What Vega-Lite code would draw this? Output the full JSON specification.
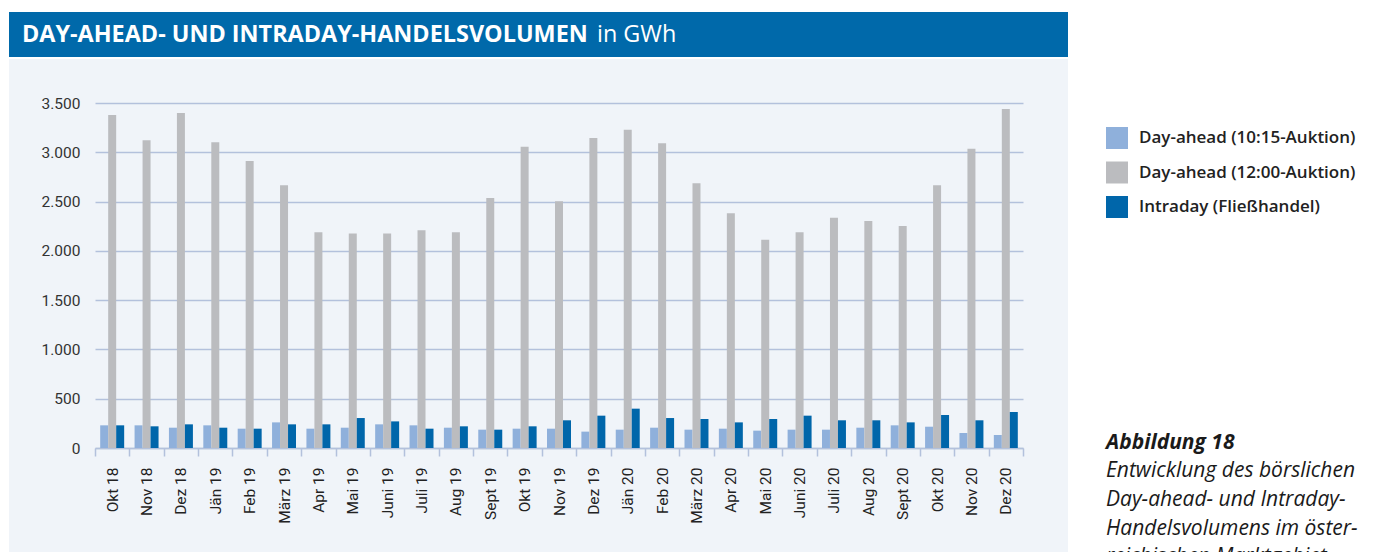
{
  "$schema": "https://vega.github.io/schema/vega-lite/v6.json",
  "background": "white",
  "padding": {"left": 2, "top": 12, "right": 0, "bottom": 0},
  "config": {
    "font": "Roboto",
    "locale": {"number": {"decimal": ",", "thousands": ".", "grouping": [3], "currency": ["", " €"]}},
    "view": {"stroke": null}
  },
  "spacing": 38,
  "hconcat": [
    {
      "spacing": 2,
      "vconcat": [
        {
          "width": 1059,
          "height": 45,
          "view": {"fill": "#0069AA", "stroke": null},
          "layer": [
            {
              "data": {"values": [{"Teil": "DAY-AHEAD- UND INTRADAY-HANDELSVOLUMEN"}]},
              "mark": {"type": "text", "align": "left", "baseline": "middle", "font": "Open Sans", "fontSize": 23.4, "fontWeight": "bold", "color": "white"},
              "encoding": {
                "x": {"field": "Teil", "type": "nominal", "scale": {"type": "point", "padding": 0, "domain": ["DAY-AHEAD- UND INTRADAY-HANDELSVOLUMEN", "in GWh"], "range": [13, 588]}, "axis": null},
                "text": {"field": "Teil"}
              }
            },
            {
              "data": {"values": [{"Teil": "in GWh"}]},
              "mark": {"type": "text", "align": "left", "baseline": "middle", "font": "Open Sans", "fontSize": 23.4, "fontWeight": "normal", "color": "white"},
              "encoding": {
                "x": {"field": "Teil", "type": "nominal", "axis": null},
                "text": {"field": "Teil"}
              }
            }
          ]
        },
        {
          "width": 1059,
          "height": 493,
          "view": {"fill": "#F0F4F9", "stroke": null},
          "data": {"values": [
            {"Monat": "Okt 18", "Reihe": "Day-ahead (10:15-Auktion)", "GWh": 230},
            {"Monat": "Okt 18", "Reihe": "Day-ahead (12:00-Auktion)", "GWh": 3378},
            {"Monat": "Okt 18", "Reihe": "Intraday (Fließhandel)", "GWh": 230},
            {"Monat": "Nov 18", "Reihe": "Day-ahead (10:15-Auktion)", "GWh": 230},
            {"Monat": "Nov 18", "Reihe": "Day-ahead (12:00-Auktion)", "GWh": 3121},
            {"Monat": "Nov 18", "Reihe": "Intraday (Fließhandel)", "GWh": 220},
            {"Monat": "Dez 18", "Reihe": "Day-ahead (10:15-Auktion)", "GWh": 206},
            {"Monat": "Dez 18", "Reihe": "Day-ahead (12:00-Auktion)", "GWh": 3398},
            {"Monat": "Dez 18", "Reihe": "Intraday (Fließhandel)", "GWh": 240},
            {"Monat": "Jän 19", "Reihe": "Day-ahead (10:15-Auktion)", "GWh": 230},
            {"Monat": "Jän 19", "Reihe": "Day-ahead (12:00-Auktion)", "GWh": 3101},
            {"Monat": "Jän 19", "Reihe": "Intraday (Fließhandel)", "GWh": 206},
            {"Monat": "Feb 19", "Reihe": "Day-ahead (10:15-Auktion)", "GWh": 196},
            {"Monat": "Feb 19", "Reihe": "Day-ahead (12:00-Auktion)", "GWh": 2911},
            {"Monat": "Feb 19", "Reihe": "Intraday (Fließhandel)", "GWh": 196},
            {"Monat": "März 19", "Reihe": "Day-ahead (10:15-Auktion)", "GWh": 260},
            {"Monat": "März 19", "Reihe": "Day-ahead (12:00-Auktion)", "GWh": 2665},
            {"Monat": "März 19", "Reihe": "Intraday (Fließhandel)", "GWh": 240},
            {"Monat": "Apr 19", "Reihe": "Day-ahead (10:15-Auktion)", "GWh": 196},
            {"Monat": "Apr 19", "Reihe": "Day-ahead (12:00-Auktion)", "GWh": 2188},
            {"Monat": "Apr 19", "Reihe": "Intraday (Fließhandel)", "GWh": 240},
            {"Monat": "Mai 19", "Reihe": "Day-ahead (10:15-Auktion)", "GWh": 206},
            {"Monat": "Mai 19", "Reihe": "Day-ahead (12:00-Auktion)", "GWh": 2176},
            {"Monat": "Mai 19", "Reihe": "Intraday (Fließhandel)", "GWh": 304},
            {"Monat": "Juni 19", "Reihe": "Day-ahead (10:15-Auktion)", "GWh": 240},
            {"Monat": "Juni 19", "Reihe": "Day-ahead (12:00-Auktion)", "GWh": 2176},
            {"Monat": "Juni 19", "Reihe": "Intraday (Fließhandel)", "GWh": 270},
            {"Monat": "Juli 19", "Reihe": "Day-ahead (10:15-Auktion)", "GWh": 230},
            {"Monat": "Juli 19", "Reihe": "Day-ahead (12:00-Auktion)", "GWh": 2208},
            {"Monat": "Juli 19", "Reihe": "Intraday (Fließhandel)", "GWh": 196},
            {"Monat": "Aug 19", "Reihe": "Day-ahead (10:15-Auktion)", "GWh": 206},
            {"Monat": "Aug 19", "Reihe": "Day-ahead (12:00-Auktion)", "GWh": 2188},
            {"Monat": "Aug 19", "Reihe": "Intraday (Fließhandel)", "GWh": 220},
            {"Monat": "Sept 19", "Reihe": "Day-ahead (10:15-Auktion)", "GWh": 186},
            {"Monat": "Sept 19", "Reihe": "Day-ahead (12:00-Auktion)", "GWh": 2536},
            {"Monat": "Sept 19", "Reihe": "Intraday (Fließhandel)", "GWh": 186},
            {"Monat": "Okt 19", "Reihe": "Day-ahead (10:15-Auktion)", "GWh": 196},
            {"Monat": "Okt 19", "Reihe": "Day-ahead (12:00-Auktion)", "GWh": 3057},
            {"Monat": "Okt 19", "Reihe": "Intraday (Fließhandel)", "GWh": 220},
            {"Monat": "Nov 19", "Reihe": "Day-ahead (10:15-Auktion)", "GWh": 196},
            {"Monat": "Nov 19", "Reihe": "Day-ahead (12:00-Auktion)", "GWh": 2502},
            {"Monat": "Nov 19", "Reihe": "Intraday (Fließhandel)", "GWh": 281},
            {"Monat": "Dez 19", "Reihe": "Day-ahead (10:15-Auktion)", "GWh": 166},
            {"Monat": "Dez 19", "Reihe": "Day-ahead (12:00-Auktion)", "GWh": 3145},
            {"Monat": "Dez 19", "Reihe": "Intraday (Fließhandel)", "GWh": 328},
            {"Monat": "Jän 20", "Reihe": "Day-ahead (10:15-Auktion)", "GWh": 186},
            {"Monat": "Jän 20", "Reihe": "Day-ahead (12:00-Auktion)", "GWh": 3229},
            {"Monat": "Jän 20", "Reihe": "Intraday (Fließhandel)", "GWh": 399},
            {"Monat": "Feb 20", "Reihe": "Day-ahead (10:15-Auktion)", "GWh": 206},
            {"Monat": "Feb 20", "Reihe": "Day-ahead (12:00-Auktion)", "GWh": 3091},
            {"Monat": "Feb 20", "Reihe": "Intraday (Fließhandel)", "GWh": 304},
            {"Monat": "März 20", "Reihe": "Day-ahead (10:15-Auktion)", "GWh": 186},
            {"Monat": "März 20", "Reihe": "Day-ahead (12:00-Auktion)", "GWh": 2685},
            {"Monat": "März 20", "Reihe": "Intraday (Fließhandel)", "GWh": 294},
            {"Monat": "Apr 20", "Reihe": "Day-ahead (10:15-Auktion)", "GWh": 196},
            {"Monat": "Apr 20", "Reihe": "Day-ahead (12:00-Auktion)", "GWh": 2381},
            {"Monat": "Apr 20", "Reihe": "Intraday (Fließhandel)", "GWh": 260},
            {"Monat": "Mai 20", "Reihe": "Day-ahead (10:15-Auktion)", "GWh": 176},
            {"Monat": "Mai 20", "Reihe": "Day-ahead (12:00-Auktion)", "GWh": 2113},
            {"Monat": "Mai 20", "Reihe": "Intraday (Fließhandel)", "GWh": 294},
            {"Monat": "Juni 20", "Reihe": "Day-ahead (10:15-Auktion)", "GWh": 186},
            {"Monat": "Juni 20", "Reihe": "Day-ahead (12:00-Auktion)", "GWh": 2188},
            {"Monat": "Juni 20", "Reihe": "Intraday (Fließhandel)", "GWh": 328},
            {"Monat": "Juli 20", "Reihe": "Day-ahead (10:15-Auktion)", "GWh": 186},
            {"Monat": "Juli 20", "Reihe": "Day-ahead (12:00-Auktion)", "GWh": 2336},
            {"Monat": "Juli 20", "Reihe": "Intraday (Fließhandel)", "GWh": 281},
            {"Monat": "Aug 20", "Reihe": "Day-ahead (10:15-Auktion)", "GWh": 206},
            {"Monat": "Aug 20", "Reihe": "Day-ahead (12:00-Auktion)", "GWh": 2303},
            {"Monat": "Aug 20", "Reihe": "Intraday (Fließhandel)", "GWh": 281},
            {"Monat": "Sept 20", "Reihe": "Day-ahead (10:15-Auktion)", "GWh": 230},
            {"Monat": "Sept 20", "Reihe": "Day-ahead (12:00-Auktion)", "GWh": 2252},
            {"Monat": "Sept 20", "Reihe": "Intraday (Fließhandel)", "GWh": 260},
            {"Monat": "Okt 20", "Reihe": "Day-ahead (10:15-Auktion)", "GWh": 216},
            {"Monat": "Okt 20", "Reihe": "Day-ahead (12:00-Auktion)", "GWh": 2665},
            {"Monat": "Okt 20", "Reihe": "Intraday (Fließhandel)", "GWh": 335},
            {"Monat": "Nov 20", "Reihe": "Day-ahead (10:15-Auktion)", "GWh": 152},
            {"Monat": "Nov 20", "Reihe": "Day-ahead (12:00-Auktion)", "GWh": 3037},
            {"Monat": "Nov 20", "Reihe": "Intraday (Fließhandel)", "GWh": 281},
            {"Monat": "Dez 20", "Reihe": "Day-ahead (10:15-Auktion)", "GWh": 132},
            {"Monat": "Dez 20", "Reihe": "Day-ahead (12:00-Auktion)", "GWh": 3439},
            {"Monat": "Dez 20", "Reihe": "Intraday (Fließhandel)", "GWh": 365}
          ]},
          "mark": {"type": "bar"},
          "encoding": {
            "x": {
              "field": "Monat", "type": "nominal", "sort": null,
              "scale": {"range": [86, 1014], "paddingInner": 0, "paddingOuter": 0},
              "axis": {"title": null, "offset": -104, "labelAngle": -90, "labelAlign": "right", "labelBaseline": "middle", "tickBand": "extent", "tickSize": 8, "tickColor": "#B3C1DC", "tickWidth": 1.5, "domainColor": "#B3C1DC", "domainWidth": 1.5, "labelPadding": 11, "labelFont": "Roboto", "labelFontSize": 15.5, "labelColor": "#222222", "grid": false}
            },
            "xOffset": {
              "field": "Reihe", "type": "nominal",
              "sort": ["Day-ahead (10:15-Auktion)", "Day-ahead (12:00-Auktion)", "Intraday (Fließhandel)"],
              "scale": {"paddingInner": 0, "paddingOuter": 0.65}
            },
            "y": {
              "field": "GWh", "type": "quantitative",
              "scale": {"domain": [0, 3500], "range": [389, 44], "nice": false},
              "axis": {"title": null, "values": [0, 500, 1000, 1500, 2000, 2500, 3000, 3500], "format": ",d", "domain": false, "ticks": false, "offset": -76, "labelPadding": 5, "labelFont": "Roboto", "labelFontSize": 15.5, "labelColor": "#333333", "grid": true, "gridColor": "#B3C1DC", "gridWidth": 1.5}
            },
            "color": {
              "field": "Reihe", "type": "nominal",
              "scale": {"domain": ["Day-ahead (10:15-Auktion)", "Day-ahead (12:00-Auktion)", "Intraday (Fließhandel)"], "range": ["#8FB0DB", "#BBBCBF", "#0066AA"]},
              "legend": {"title": null, "orient": "none", "legendX": 1097, "legendY": 115, "symbolType": "square", "symbolSize": 484, "symbolStrokeWidth": 0, "symbolOpacity": 1, "labelFont": "Open Sans", "labelFontSize": 17, "labelFontWeight": 600, "labelColor": "#222222", "labelOffset": 11, "labelLimit": 400, "rowPadding": 12.5, "padding": 0}
            }
          }
        }
      ]
    },
    {
      "width": 270,
      "height": 420,
      "data": {"values": []},
      "mark": "text",
      "title": {
        "text": "Abbildung 18",
        "subtitle": ["Entwicklung des börslichen", "Day-ahead- und Intraday-", "Handelsvolumens im öster-", "reichischen Marktgebiet"],
        "orient": "bottom", "anchor": "start", "frame": "group", "offset": 0,
        "font": "Open Sans", "fontSize": 21, "fontStyle": "italic", "fontWeight": "bold", "color": "#1a1a1a",
        "subtitleFont": "Open Sans", "subtitleFontSize": 21, "subtitleFontStyle": "italic", "subtitleFontWeight": "normal", "subtitleColor": "#1a1a1a", "subtitleLineHeight": 28.8, "subtitlePadding": 7
      }
    }
  ]
}
